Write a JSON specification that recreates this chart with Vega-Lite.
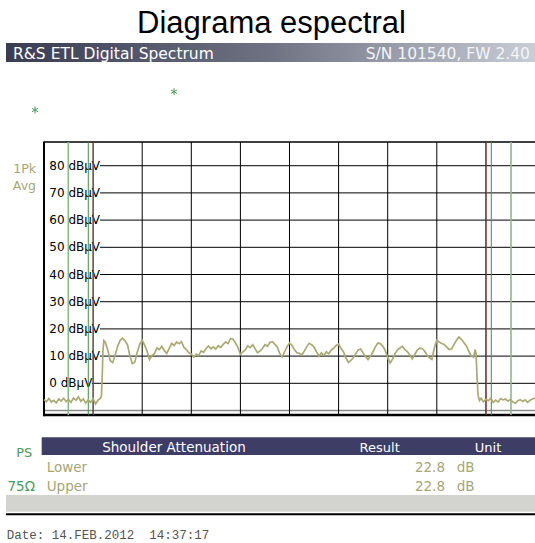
{
  "$schema": "https://vega.github.io/schema/vega-lite/v6.json",
  "width": 535,
  "height": 543,
  "autosize": {"type": "none"},
  "padding": 0,
  "background": "white",
  "config": {"view": {"stroke": null}},
  "datasets": {
    "one": [{}],
    "trace": [
      {"mhz":0,"dbuv":-6.0},{"mhz":0.05,"dbuv":-6.8},{"mhz":0.1,"dbuv":-5.6},{"mhz":0.15,"dbuv":-6.9},{"mhz":0.2,"dbuv":-6.3},
      {"mhz":0.25,"dbuv":-7.2},{"mhz":0.3,"dbuv":-5.8},{"mhz":0.35,"dbuv":-6.5},{"mhz":0.4,"dbuv":-5.5},{"mhz":0.45,"dbuv":-6.7},
      {"mhz":0.5,"dbuv":-6.0},{"mhz":0.55,"dbuv":-7.0},{"mhz":0.6,"dbuv":-5.4},{"mhz":0.65,"dbuv":-6.2},{"mhz":0.7,"dbuv":-5.0},
      {"mhz":0.75,"dbuv":-6.6},{"mhz":0.8,"dbuv":-5.7},{"mhz":0.85,"dbuv":-7.3},{"mhz":0.9,"dbuv":-6.1},{"mhz":0.95,"dbuv":-7.0},
      {"mhz":1.0,"dbuv":-5.6},{"mhz":1.05,"dbuv":-7.6},{"mhz":1.1,"dbuv":-6.2},{"mhz":1.15,"dbuv":-5.5},{"mhz":1.17,"dbuv":-4.5},
      {"mhz":1.19,"dbuv":5.0},{"mhz":1.2,"dbuv":12.0},{"mhz":1.22,"dbuv":15.7},{"mhz":1.25,"dbuv":15.0},{"mhz":1.3,"dbuv":12.2},
      {"mhz":1.35,"dbuv":8.3},{"mhz":1.4,"dbuv":7.6},{"mhz":1.45,"dbuv":10.5},{"mhz":1.5,"dbuv":13.6},{"mhz":1.55,"dbuv":15.8},
      {"mhz":1.6,"dbuv":16.6},{"mhz":1.65,"dbuv":15.6},{"mhz":1.7,"dbuv":14.2},{"mhz":1.75,"dbuv":10.0},{"mhz":1.8,"dbuv":7.2},
      {"mhz":1.85,"dbuv":7.8},{"mhz":1.9,"dbuv":11.5},{"mhz":1.95,"dbuv":14.3},{"mhz":2.0,"dbuv":15.8},{"mhz":2.05,"dbuv":14.0},
      {"mhz":2.1,"dbuv":11.8},{"mhz":2.15,"dbuv":8.8},{"mhz":2.2,"dbuv":10.2},{"mhz":2.25,"dbuv":11.0},{"mhz":2.3,"dbuv":13.0},
      {"mhz":2.35,"dbuv":12.4},{"mhz":2.4,"dbuv":13.6},{"mhz":2.45,"dbuv":12.0},{"mhz":2.5,"dbuv":11.0},{"mhz":2.55,"dbuv":12.8},
      {"mhz":2.6,"dbuv":14.7},{"mhz":2.65,"dbuv":13.9},{"mhz":2.7,"dbuv":15.2},{"mhz":2.75,"dbuv":14.6},{"mhz":2.8,"dbuv":15.3},
      {"mhz":2.85,"dbuv":13.2},{"mhz":2.9,"dbuv":12.4},{"mhz":2.95,"dbuv":11.2},{"mhz":3.0,"dbuv":10.8},{"mhz":3.05,"dbuv":9.6},
      {"mhz":3.1,"dbuv":10.7},{"mhz":3.15,"dbuv":10.2},{"mhz":3.2,"dbuv":11.9},{"mhz":3.25,"dbuv":11.4},{"mhz":3.3,"dbuv":12.8},
      {"mhz":3.35,"dbuv":13.7},{"mhz":3.4,"dbuv":12.7},{"mhz":3.45,"dbuv":13.4},{"mhz":3.5,"dbuv":12.6},{"mhz":3.55,"dbuv":13.8},
      {"mhz":3.6,"dbuv":13.2},{"mhz":3.65,"dbuv":14.3},{"mhz":3.7,"dbuv":15.2},{"mhz":3.75,"dbuv":14.6},{"mhz":3.8,"dbuv":16.5},
      {"mhz":3.85,"dbuv":16.2},{"mhz":3.9,"dbuv":14.8},{"mhz":3.95,"dbuv":13.2},{"mhz":4.0,"dbuv":10.6},{"mhz":4.05,"dbuv":11.6},
      {"mhz":4.1,"dbuv":12.3},{"mhz":4.15,"dbuv":13.8},{"mhz":4.2,"dbuv":13.1},{"mhz":4.25,"dbuv":14.2},{"mhz":4.3,"dbuv":12.7},
      {"mhz":4.35,"dbuv":11.2},{"mhz":4.4,"dbuv":11.9},{"mhz":4.45,"dbuv":12.8},{"mhz":4.5,"dbuv":14.2},{"mhz":4.55,"dbuv":13.6},
      {"mhz":4.6,"dbuv":15.0},{"mhz":4.65,"dbuv":15.3},{"mhz":4.7,"dbuv":14.4},{"mhz":4.75,"dbuv":13.4},{"mhz":4.8,"dbuv":11.0},
      {"mhz":4.85,"dbuv":9.7},{"mhz":4.9,"dbuv":11.6},{"mhz":4.95,"dbuv":13.4},{"mhz":5.0,"dbuv":14.8},{"mhz":5.05,"dbuv":14.0},
      {"mhz":5.1,"dbuv":12.4},{"mhz":5.15,"dbuv":11.2},{"mhz":5.2,"dbuv":11.0},{"mhz":5.25,"dbuv":10.4},{"mhz":5.3,"dbuv":11.8},
      {"mhz":5.35,"dbuv":13.4},{"mhz":5.4,"dbuv":14.7},{"mhz":5.45,"dbuv":14.2},{"mhz":5.5,"dbuv":13.3},{"mhz":5.55,"dbuv":11.6},
      {"mhz":5.6,"dbuv":10.0},{"mhz":5.65,"dbuv":11.2},{"mhz":5.7,"dbuv":10.3},{"mhz":5.75,"dbuv":11.6},{"mhz":5.8,"dbuv":10.9},
      {"mhz":5.85,"dbuv":12.2},{"mhz":5.9,"dbuv":12.9},{"mhz":5.95,"dbuv":13.9},{"mhz":6.0,"dbuv":14.4},{"mhz":6.05,"dbuv":12.8},
      {"mhz":6.1,"dbuv":11.5},{"mhz":6.15,"dbuv":9.3},{"mhz":6.2,"dbuv":7.7},{"mhz":6.25,"dbuv":8.4},{"mhz":6.3,"dbuv":9.4},
      {"mhz":6.35,"dbuv":10.9},{"mhz":6.4,"dbuv":12.3},{"mhz":6.45,"dbuv":12.6},{"mhz":6.5,"dbuv":11.1},{"mhz":6.55,"dbuv":9.8},
      {"mhz":6.6,"dbuv":8.7},{"mhz":6.65,"dbuv":10.0},{"mhz":6.7,"dbuv":11.6},{"mhz":6.75,"dbuv":13.4},{"mhz":6.8,"dbuv":14.8},
      {"mhz":6.85,"dbuv":14.6},{"mhz":6.9,"dbuv":13.6},{"mhz":6.95,"dbuv":12.1},{"mhz":7.0,"dbuv":9.4},{"mhz":7.05,"dbuv":7.5},
      {"mhz":7.1,"dbuv":8.9},{"mhz":7.15,"dbuv":10.9},{"mhz":7.2,"dbuv":12.3},{"mhz":7.25,"dbuv":13.0},{"mhz":7.3,"dbuv":13.6},
      {"mhz":7.35,"dbuv":12.4},{"mhz":7.4,"dbuv":11.7},{"mhz":7.45,"dbuv":10.4},{"mhz":7.5,"dbuv":9.0},{"mhz":7.55,"dbuv":10.6},
      {"mhz":7.6,"dbuv":12.1},{"mhz":7.65,"dbuv":12.9},{"mhz":7.7,"dbuv":12.8},{"mhz":7.75,"dbuv":11.9},{"mhz":7.8,"dbuv":10.4},
      {"mhz":7.85,"dbuv":9.4},{"mhz":7.9,"dbuv":8.8},{"mhz":7.95,"dbuv":13.0},{"mhz":8.0,"dbuv":15.9},{"mhz":8.05,"dbuv":15.2},
      {"mhz":8.1,"dbuv":14.6},{"mhz":8.15,"dbuv":14.3},{"mhz":8.2,"dbuv":13.4},{"mhz":8.25,"dbuv":12.4},{"mhz":8.3,"dbuv":12.6},
      {"mhz":8.35,"dbuv":14.2},{"mhz":8.4,"dbuv":15.8},{"mhz":8.45,"dbuv":17.0},{"mhz":8.5,"dbuv":16.2},{"mhz":8.55,"dbuv":15.0},
      {"mhz":8.6,"dbuv":13.8},{"mhz":8.65,"dbuv":11.8},{"mhz":8.7,"dbuv":10.1},{"mhz":8.75,"dbuv":9.6},{"mhz":8.78,"dbuv":12.4},
      {"mhz":8.8,"dbuv":11.0},{"mhz":8.82,"dbuv":2.0},{"mhz":8.84,"dbuv":-4.5},{"mhz":8.87,"dbuv":-6.3},{"mhz":8.9,"dbuv":-5.5},
      {"mhz":8.95,"dbuv":-6.8},{"mhz":9.0,"dbuv":-5.9},{"mhz":9.05,"dbuv":-6.4},{"mhz":9.1,"dbuv":-5.5},{"mhz":9.15,"dbuv":-7.0},
      {"mhz":9.2,"dbuv":-6.2},{"mhz":9.25,"dbuv":-6.9},{"mhz":9.3,"dbuv":-5.6},{"mhz":9.35,"dbuv":-6.1},{"mhz":9.4,"dbuv":-5.8},
      {"mhz":9.45,"dbuv":-6.6},{"mhz":9.5,"dbuv":-5.9},{"mhz":9.55,"dbuv":-6.9},{"mhz":9.6,"dbuv":-7.3},{"mhz":9.65,"dbuv":-6.4},
      {"mhz":9.7,"dbuv":-6.0},{"mhz":9.75,"dbuv":-6.7},{"mhz":9.8,"dbuv":-6.1},{"mhz":9.85,"dbuv":-7.0},{"mhz":9.9,"dbuv":-6.2},
      {"mhz":9.95,"dbuv":-5.8},{"mhz":10.0,"dbuv":-5.4}
    ],
    "levels": [
      {"lvl":0,"label":"0 dBµV"},{"lvl":10,"label":"10 dBµV"},{"lvl":20,"label":"20 dBµV"},{"lvl":30,"label":"30 dBµV"},
      {"lvl":40,"label":"40 dBµV"},{"lvl":50,"label":"50 dBµV"},{"lvl":60,"label":"60 dBµV"},{"lvl":70,"label":"70 dBµV"},
      {"lvl":80,"label":"80 dBµV"}
    ],
    "vgrid": [{"mhz":1},{"mhz":2},{"mhz":3},{"mhz":4},{"mhz":5},{"mhz":6},{"mhz":7},{"mhz":8},{"mhz":9}],
    "lines": [
      {"mhz":0.495,"kind":"light"},{"mhz":9.511,"kind":"light"},
      {"mhz":0.902,"kind":"green"},{"mhz":9.11,"kind":"green"},
      {"mhz":1.004,"kind":"red"},{"mhz":9.008,"kind":"red"}
    ],
    "stars": [{"mhz":2.648,"dbuv":107.21},{"mhz":-0.183,"dbuv":100.48}],
    "table": [
      {"param":"Lower","result":"22.8","unit":"dB"},
      {"param":"Upper","result":"22.8","unit":"dB"}
    ]
  },
  "data": {"name": "one"},
  "layer": [
    {
      "mark": {"type": "rect", "color": {"gradient": "linear", "x1": 0, "y1": 0, "x2": 1, "y2": 0,
        "stops": [{"offset": 0, "color": "#393c52"}, {"offset": 0.5, "color": "#6e7282"}, {"offset": 1, "color": "#c9cdd6"}]}},
      "encoding": {
        "x": {"datum": -0.774, "type": "quantitative", "scale": {"domain": [-0.8961, 10.0], "nice": false, "zero": false}, "axis": null},
        "x2": {"datum": 10},
        "y": {"datum": 125.11, "type": "quantitative", "scale": {"domain": [-58.71, 140.92], "nice": false, "zero": false}, "axis": null},
        "y2": {"datum": 118.13}
      }
    },
    {
      "mark": {"type": "text", "text": "Diagrama espectral", "font": "Liberation Sans", "fontSize": 31, "color": "#000000", "align": "center", "baseline": "alphabetic"},
      "encoding": {
        "x": {"datum": 4.633, "type": "quantitative", "axis": null},
        "y": {"datum": 128.68, "type": "quantitative", "axis": null}
      }
    },
    {
      "mark": {"type": "text", "text": "R&S ETL Digital Spectrum", "font": "DejaVu Sans", "fontSize": 15.5, "color": "#ffffff", "align": "left", "baseline": "alphabetic"},
      "encoding": {
        "x": {"datum": -0.631, "type": "quantitative", "axis": null},
        "y": {"datum": 119.34, "type": "quantitative", "axis": null}
      }
    },
    {
      "mark": {"type": "text", "text": "S/N 101540, FW 2.40", "font": "DejaVu Sans", "fontSize": 15.5, "color": "#f4f5f8", "align": "right", "baseline": "alphabetic"},
      "encoding": {
        "x": {"datum": 9.898, "type": "quantitative", "axis": null},
        "y": {"datum": 119.34, "type": "quantitative", "axis": null}
      }
    },
    {
      "data": {"name": "stars"},
      "mark": {"type": "point", "shape": "M0,-1V1M-0.87,-0.5L0.87,0.5M-0.87,0.5L0.87,-0.5", "filled": false, "size": 49, "strokeWidth": 1, "color": "#4a9a5a", "opacity": 1},
      "encoding": {
        "x": {"field": "mhz", "type": "quantitative", "axis": null},
        "y": {"field": "dbuv", "type": "quantitative", "axis": null}
      }
    },
    {
      "data": {"name": "levels"},
      "transform": [{"filter": "datum.lvl >= 10"}],
      "mark": {"type": "rule", "color": "#000000", "strokeWidth": 1},
      "encoding": {
        "x": {"datum": 1.14, "type": "quantitative", "axis": null},
        "x2": {"datum": 10},
        "y": {"field": "lvl", "type": "quantitative", "axis": null}
      }
    },
    {
      "data": {"name": "levels"},
      "transform": [{"filter": "datum.lvl == 0"}],
      "mark": {"type": "rule", "color": "#000000", "strokeWidth": 1},
      "encoding": {
        "x": {"datum": 0.978, "type": "quantitative", "axis": null},
        "x2": {"datum": 10},
        "y": {"field": "lvl", "type": "quantitative", "axis": null}
      }
    },
    {
      "mark": {"type": "rule", "color": "#8a8a8a", "strokeWidth": 1.3},
      "encoding": {
        "x": {"datum": 0, "type": "quantitative", "axis": null},
        "x2": {"datum": 10},
        "y": {"datum": -10, "type": "quantitative", "axis": null}
      }
    },
    {
      "data": {"name": "vgrid"},
      "mark": {"type": "rule", "color": "#000000", "strokeWidth": 1},
      "encoding": {
        "x": {"field": "mhz", "type": "quantitative", "axis": null},
        "y": {"datum": -11.65, "type": "quantitative", "axis": null},
        "y2": {"datum": 88.71}
      }
    },
    {
      "mark": {"type": "rule", "color": "#000000", "strokeWidth": 1.5},
      "encoding": {
        "x": {"datum": 0, "type": "quantitative", "axis": null},
        "x2": {"datum": 10},
        "y": {"datum": 88.71, "type": "quantitative", "axis": null}
      }
    },
    {
      "mark": {"type": "rule", "color": "#000000", "strokeWidth": 2.5},
      "encoding": {
        "x": {"datum": 0, "type": "quantitative", "axis": null},
        "x2": {"datum": 10},
        "y": {"datum": -11.65, "type": "quantitative", "axis": null}
      }
    },
    {
      "mark": {"type": "rule", "color": "#000000", "strokeWidth": 2},
      "encoding": {
        "x": {"datum": 0, "type": "quantitative", "axis": null},
        "y": {"datum": -12.1, "type": "quantitative", "axis": null},
        "y2": {"datum": 88.9}
      }
    },
    {
      "data": {"name": "levels"},
      "mark": {"type": "text", "font": "DejaVu Sans", "fontSize": 12, "color": "#000000", "align": "left", "baseline": "middle"},
      "encoding": {
        "x": {"datum": 0.108, "type": "quantitative", "axis": null},
        "y": {"field": "lvl", "type": "quantitative", "axis": null},
        "text": {"field": "label"}
      }
    },
    {
      "mark": {"type": "text", "text": "1Pk", "font": "DejaVu Sans", "fontSize": 12.5, "color": "#a6a676", "align": "right", "baseline": "middle"},
      "encoding": {
        "x": {"datum": -0.163, "type": "quantitative", "axis": null},
        "y": {"datum": 78.68, "type": "quantitative", "axis": null}
      }
    },
    {
      "mark": {"type": "text", "text": "Avg", "font": "DejaVu Sans", "fontSize": 12.5, "color": "#a6a676", "align": "right", "baseline": "middle"},
      "encoding": {
        "x": {"datum": -0.163, "type": "quantitative", "axis": null},
        "y": {"datum": 72.54, "type": "quantitative", "axis": null}
      }
    },
    {
      "data": {"name": "lines"},
      "transform": [{"filter": "datum.kind == 'light'"}],
      "mark": {"type": "rule", "color": "#86bd86", "strokeWidth": 1.6},
      "encoding": {
        "x": {"field": "mhz", "type": "quantitative", "axis": null},
        "y": {"datum": -11.65, "type": "quantitative", "axis": null},
        "y2": {"datum": 88.71}
      }
    },
    {
      "data": {"name": "lines"},
      "transform": [{"filter": "datum.kind == 'green'"}],
      "mark": {"type": "rule", "color": "#3f913f", "strokeWidth": 1},
      "encoding": {
        "x": {"field": "mhz", "type": "quantitative", "axis": null},
        "y": {"datum": -11.65, "type": "quantitative", "axis": null},
        "y2": {"datum": 88.71}
      }
    },
    {
      "data": {"name": "lines"},
      "transform": [{"filter": "datum.kind == 'red'"}],
      "mark": {"type": "rule", "color": "#a04a4a", "strokeWidth": 1},
      "encoding": {
        "x": {"field": "mhz", "type": "quantitative", "axis": null},
        "y": {"datum": -11.65, "type": "quantitative", "axis": null},
        "y2": {"datum": 88.71}
      }
    },
    {
      "data": {"name": "trace"},
      "mark": {"type": "line", "color": "#aaaa74", "strokeWidth": 1.7, "interpolate": "linear"},
      "encoding": {
        "x": {"field": "mhz", "type": "quantitative", "axis": null},
        "y": {"field": "dbuv", "type": "quantitative", "axis": null}
      }
    },
    {
      "mark": {"type": "rect", "color": "#3d3d66"},
      "encoding": {
        "x": {"datum": -0.047, "type": "quantitative", "axis": null},
        "x2": {"datum": 10},
        "y": {"datum": -19.85, "type": "quantitative", "axis": null},
        "y2": {"datum": -26.36}
      }
    },
    {
      "mark": {"type": "text", "text": "Shoulder Attenuation", "font": "DejaVu Sans", "fontSize": 13.5, "color": "#ffffff", "align": "center", "baseline": "middle"},
      "encoding": {
        "x": {"datum": 2.646, "type": "quantitative", "axis": null},
        "y": {"datum": -23.9, "type": "quantitative", "axis": null}
      }
    },
    {
      "mark": {"type": "text", "text": "Result", "font": "DejaVu Sans", "fontSize": 13, "color": "#ffffff", "align": "center", "baseline": "middle"},
      "encoding": {
        "x": {"datum": 6.837, "type": "quantitative", "axis": null},
        "y": {"datum": -23.9, "type": "quantitative", "axis": null}
      }
    },
    {
      "mark": {"type": "text", "text": "Unit", "font": "DejaVu Sans", "fontSize": 13, "color": "#ffffff", "align": "center", "baseline": "middle"},
      "encoding": {
        "x": {"datum": 9.043, "type": "quantitative", "axis": null},
        "y": {"datum": -23.9, "type": "quantitative", "axis": null}
      }
    },
    {
      "mark": {"type": "text", "text": "PS", "font": "DejaVu Sans", "fontSize": 13, "color": "#4c9a5c", "align": "center", "baseline": "middle"},
      "encoding": {
        "x": {"datum": -0.403, "type": "quantitative", "axis": null},
        "y": {"datum": -25.74, "type": "quantitative", "axis": null}
      }
    },
    {
      "mark": {"type": "text", "text": "75Ω", "font": "DejaVu Sans", "fontSize": 13.5, "color": "#4c9a5c", "align": "right", "baseline": "middle"},
      "encoding": {
        "x": {"datum": -0.183, "type": "quantitative", "axis": null},
        "y": {"datum": -38.01, "type": "quantitative", "axis": null}
      }
    },
    {
      "data": {"name": "table"},
      "transform": [{"filter": "datum.param == 'Lower'"}],
      "layer": [
        {
          "mark": {"type": "text", "font": "DejaVu Sans", "fontSize": 13.5, "color": "#a6a676", "align": "left", "baseline": "middle"},
          "encoding": {
            "x": {"datum": 0.055, "type": "quantitative", "axis": null},
            "y": {"datum": -31.25, "type": "quantitative", "axis": null},
            "text": {"field": "param"}
          }
        },
        {
          "mark": {"type": "text", "font": "DejaVu Sans", "fontSize": 13.5, "color": "#a6a676", "align": "right", "baseline": "middle"},
          "encoding": {
            "x": {"datum": 8.167, "type": "quantitative", "axis": null},
            "y": {"datum": -31.25, "type": "quantitative", "axis": null},
            "text": {"field": "result"}
          }
        },
        {
          "mark": {"type": "text", "font": "DejaVu Sans", "fontSize": 13.5, "color": "#a6a676", "align": "left", "baseline": "middle"},
          "encoding": {
            "x": {"datum": 8.405, "type": "quantitative", "axis": null},
            "y": {"datum": -31.25, "type": "quantitative", "axis": null},
            "text": {"field": "unit"}
          }
        }
      ]
    },
    {
      "data": {"name": "table"},
      "transform": [{"filter": "datum.param == 'Upper'"}],
      "layer": [
        {
          "mark": {"type": "text", "font": "DejaVu Sans", "fontSize": 13.5, "color": "#a6a676", "align": "left", "baseline": "middle"},
          "encoding": {
            "x": {"datum": 0.055, "type": "quantitative", "axis": null},
            "y": {"datum": -38.01, "type": "quantitative", "axis": null},
            "text": {"field": "param"}
          }
        },
        {
          "mark": {"type": "text", "font": "DejaVu Sans", "fontSize": 13.5, "color": "#a6a676", "align": "right", "baseline": "middle"},
          "encoding": {
            "x": {"datum": 8.167, "type": "quantitative", "axis": null},
            "y": {"datum": -38.01, "type": "quantitative", "axis": null},
            "text": {"field": "result"}
          }
        },
        {
          "mark": {"type": "text", "font": "DejaVu Sans", "fontSize": 13.5, "color": "#a6a676", "align": "left", "baseline": "middle"},
          "encoding": {
            "x": {"datum": 8.405, "type": "quantitative", "axis": null},
            "y": {"datum": -38.01, "type": "quantitative", "axis": null},
            "text": {"field": "unit"}
          }
        }
      ]
    },
    {
      "mark": {"type": "rect", "color": "#d3d3cf"},
      "encoding": {
        "x": {"datum": -0.774, "type": "quantitative", "axis": null},
        "x2": {"datum": 10},
        "y": {"datum": -41.07, "type": "quantitative", "axis": null},
        "y2": {"datum": -47.21}
      }
    },
    {
      "mark": {"type": "rule", "color": "#000000", "strokeWidth": 2},
      "encoding": {
        "x": {"datum": -0.774, "type": "quantitative", "axis": null},
        "x2": {"datum": 10},
        "y": {"datum": -48.16, "type": "quantitative", "axis": null}
      }
    },
    {
      "mark": {"type": "text", "text": "Date: 14.FEB.2012 \u00a014:37:17", "font": "Liberation Mono", "fontSize": 12.5, "color": "#555555", "align": "left", "baseline": "middle"},
      "encoding": {
        "x": {"datum": -0.76, "type": "quantitative", "axis": null},
        "y": {"datum": -55.9, "type": "quantitative", "axis": null}
      }
    }
  ]
}
